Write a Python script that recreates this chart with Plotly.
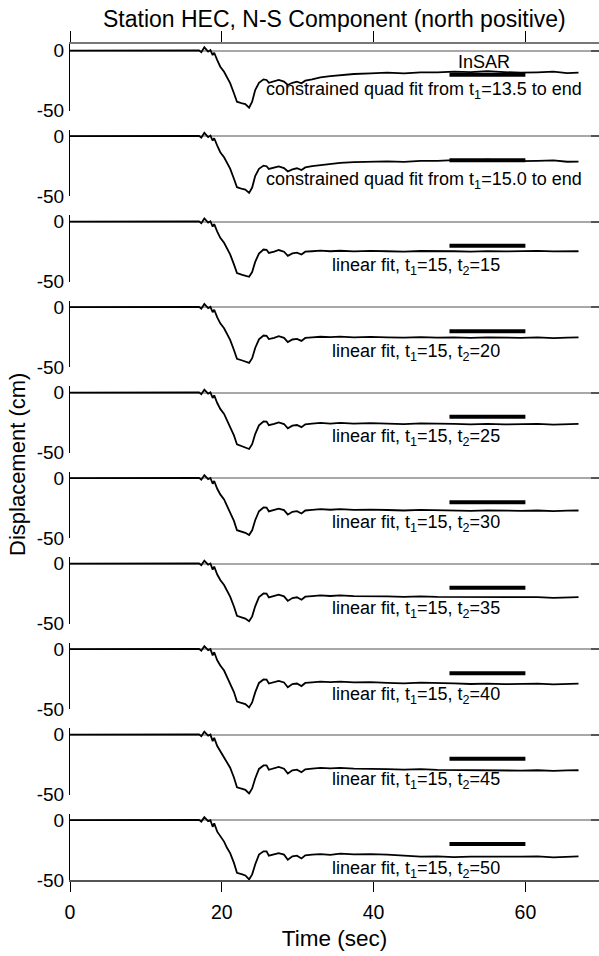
import plotly.graph_objects as go

# ---------------- data ----------------
time_s = [0, 14.5, 16.3, 17.0, 17.3, 17.7, 18.2, 18.5, 18.8, 19.0,
          19.4, 19.8, 20.3, 20.7, 21.1, 21.6, 22.0, 22.7, 23.1, 23.6,
          24.0, 24.4, 24.9, 25.5, 25.9, 26.2, 26.9, 27.5, 28.2, 28.7,
          29.3, 29.9, 30.5, 31.0, 31.9, 33.0, 34.3, 35.6, 37.4, 39.6,
          41.8, 44.0, 46.2, 48.4, 50.6, 52.8, 55.0, 57.2, 59.4, 61.6,
          63.7, 65.5, 67.0]

quad_t1_13_5 = [0, 0, 0.3, 0.3, -1.2, 2.8, -0.8, 0.5, -3.6, -1.7, -7.8, -13.3, -17.5, -23.0, -27.0, -35.5, -42.5, -44.0, -44.5,
                -47.5, -42.5, -32.8, -26.7, -23.9, -24.4, -26.7, -25.8, -24.4, -25.8, -28.6, -26.7, -25.8, -27.2, -25.0, -23.9,
                -22.2, -21.1, -20.3, -19.4, -18.9, -18.3, -18.9, -18.0, -18.0, -17.5, -17.8, -17.0, -17.8, -18.3, -18.0, -17.5, -18.6, -18.3]
quad_t1_15_0 = [0, 0, 0.3, 0.3, -1.2, 2.8, -0.8, 0.5, -3.6, -1.7, -7.8, -13.3, -17.5, -23.0, -27.0, -35.5, -42.5, -44.0, -44.5,
                -47.3, -42.8, -33.2, -27.2, -24.5, -25.0, -27.3, -26.5, -25.2, -26.6, -29.4, -27.6, -26.7, -28.2, -26.0, -25.0,
                -24.0, -23.0, -22.2, -21.6, -21.3, -21.0, -21.4, -20.6, -20.5, -20.0, -20.3, -19.6, -20.3, -20.8, -20.6, -20.2, -21.3, -21.2]
lin_t2_15 = [0, 0, 0.3, 0.3, -1.2, 2.7, -0.8, 0.4, -4.0, -2.0, -8.2, -13.4, -17.6, -23.1, -27.2, -35.6, -42.8, -44.3, -44.9,
             -45.9, -42.0, -33.5, -26.5, -23.2, -23.4, -26.0, -25.0, -23.6, -25.0, -28.4, -26.4, -25.8, -27.4, -25.0, -24.6,
             -24.1, -24.6, -24.2, -24.7, -24.3, -24.6, -24.9, -24.4, -24.8, -24.6, -24.9, -24.5, -24.8, -24.6, -24.3, -24.8, -24.4, -24.6]
lin_t2_20 = [0, 0, 0.3, 0.3, -1.2, 2.7, -0.8, 0.3, -4.2, -2.1, -8.4, -13.4, -17.6, -23.1, -27.2, -35.6, -43.0, -44.4, -45.1,
             -46.4, -42.5, -34.0, -26.8, -23.6, -23.8, -26.5, -25.5, -24.2, -25.5, -29.1, -26.9, -26.4, -28.1, -25.6, -25.2,
             -24.6, -25.0, -24.5, -25.1, -24.7, -25.1, -25.4, -24.9, -25.4, -25.2, -25.6, -25.1, -25.6, -25.5, -25.2, -25.8, -25.3, -25.2]
lin_t2_25 = [0, 0, 0.3, 0.3, -1.2, 2.6, -0.8, 0.3, -4.4, -2.2, -8.6, -13.5, -17.7, -23.2, -27.3, -35.6, -43.1, -44.6, -45.3,
             -46.9, -42.9, -34.5, -27.2, -24.0, -24.1, -27.1, -25.9, -24.7, -26.1, -29.7, -27.5, -26.9, -28.7, -26.3, -25.8,
             -25.2, -25.7, -25.1, -25.7, -25.4, -25.8, -26.1, -25.6, -26.1, -26.0, -26.4, -25.9, -26.4, -26.3, -26.0, -26.6, -26.1, -26.0]
lin_t2_30 = [0, 0, 0.3, 0.3, -1.2, 2.6, -0.8, 0.2, -4.6, -2.3, -8.8, -13.5, -17.7, -23.2, -27.3, -35.6, -43.3, -44.7, -45.5,
             -47.4, -43.4, -35.0, -27.5, -24.4, -24.5, -27.6, -26.4, -25.3, -26.6, -30.4, -28.0, -27.5, -29.4, -26.9, -26.4,
             -25.8, -26.3, -25.8, -26.4, -26.1, -26.5, -26.9, -26.4, -26.9, -26.8, -27.3, -26.8, -27.3, -27.2, -26.9, -27.5, -27.0, -26.9]
lin_t2_35 = [0, 0, 0.3, 0.3, -1.2, 2.6, -0.8, 0.2, -4.9, -2.4, -9.0, -13.6, -17.8, -23.2, -27.4, -35.7, -43.5, -44.9, -45.7,
             -48.0, -43.9, -35.5, -27.8, -24.8, -24.9, -28.1, -26.9, -25.8, -27.2, -31.0, -28.6, -28.0, -30.0, -27.5, -27.0,
             -26.4, -26.9, -26.4, -27.0, -26.8, -27.2, -27.6, -27.2, -27.7, -27.7, -28.1, -27.7, -28.2, -28.1, -27.8, -28.4, -27.9, -27.8]
lin_t2_40 = [0, 0, 0.3, 0.3, -1.2, 2.5, -0.8, 0.1, -5.1, -2.5, -9.2, -13.6, -17.8, -23.3, -27.4, -35.7, -43.6, -45.0, -45.8,
             -48.5, -44.4, -36.0, -28.1, -25.2, -25.3, -28.6, -27.4, -26.4, -27.7, -31.7, -29.1, -28.6, -30.7, -28.1, -27.6,
             -27.0, -27.5, -27.0, -27.7, -27.5, -28.0, -28.4, -27.9, -28.5, -28.5, -29.0, -28.6, -29.1, -29.0, -28.7, -29.3, -28.8, -28.7]
lin_t2_45 = [0, 0, 0.3, 0.3, -1.2, 2.5, -0.8, 0.1, -5.3, -2.6, -9.4, -13.7, -17.9, -23.3, -27.5, -35.7, -43.8, -45.2, -46.0,
             -49.0, -44.8, -36.5, -28.5, -25.6, -25.6, -29.2, -27.8, -26.9, -28.3, -32.3, -29.7, -29.1, -31.3, -28.8, -28.2,
             -27.6, -28.1, -27.7, -28.3, -28.2, -28.7, -29.1, -28.7, -29.3, -29.4, -29.9, -29.5, -30.0, -29.9, -29.6, -30.2, -29.7, -29.6]
lin_t2_50 = [0, 0, 0.3, 0.3, -1.2, 2.5, -0.8, 0.0, -5.5, -2.7, -9.6, -13.7, -17.9, -23.3, -27.5, -35.7, -44.0, -45.3, -46.2,
             -49.5, -45.3, -37.0, -28.8, -26.0, -26.0, -29.7, -28.3, -27.5, -28.8, -33.0, -30.2, -29.7, -32.0, -29.4, -28.8,
             -28.3, -29.0, -28.0, -28.6, -28.3, -28.8, -29.7, -30.5, -30.2, -30.8, -30.5, -30.8, -30.5, -30.5, -30.2, -31.0, -30.5, -30.2]

panel_series = [quad_t1_13_5, quad_t1_15_0, lin_t2_15, lin_t2_20, lin_t2_25,
                lin_t2_30, lin_t2_35, lin_t2_40, lin_t2_45, lin_t2_50]

panel_labels = ["constrained quad fit from t<sub>1</sub>=13.5 to end",
                "constrained quad fit from t<sub>1</sub>=15.0 to end",
                "linear fit, t<sub>1</sub>=15, t<sub>2</sub>=15",
                "linear fit, t<sub>1</sub>=15, t<sub>2</sub>=20",
                "linear fit, t<sub>1</sub>=15, t<sub>2</sub>=25",
                "linear fit, t<sub>1</sub>=15, t<sub>2</sub>=30",
                "linear fit, t<sub>1</sub>=15, t<sub>2</sub>=35",
                "linear fit, t<sub>1</sub>=15, t<sub>2</sub>=40",
                "linear fit, t<sub>1</sub>=15, t<sub>2</sub>=45",
                "linear fit, t<sub>1</sub>=15, t<sub>2</sub>=50"]

insar_time = [50, 60]
insar_disp = [-20, -20]

x_ticks = [0, 20, 40, 60]
y_ticks = [0, -50]
y_tick_text = ["0", "-50"]

# ---------------- layout helpers ----------------
label_pos = [(46.6, -33.5), (46.6, -37), (45.6, -37), (45.6, -38), (45.6, -37.5),
             (45.6, -37.5), (45.6, -38), (45.6, -39), (45.6, -38), (45.6, -41.5)]

W, H = 599, 956
M_T, M_B, M_L, M_R = 44, 76, 70, 0
PH = H - M_T - M_B
PANEL_STEP = 85.5
PANEL_H = 66.7
Y_RANGE = [-50, 5.6]
X_RANGE = [0, 69.7]
FONT = "Liberation Sans, Arial, Helvetica, sans-serif"

fig = go.Figure()
layout = {}
annotations = []

for k in range(10):
    yname = "y" if k == 0 else f"y{k+1}"
    ykey = "yaxis" if k == 0 else f"yaxis{k+1}"
    rname = f"y{k+11}"
    rkey = f"yaxis{k+11}"
    top_px = M_T + PANEL_STEP * k
    bot_px = top_px + PANEL_H
    d0 = max(0.0, (H - M_B - bot_px) / PH)
    d1 = min(1.0, (H - M_B - top_px) / PH)

    fig.add_trace(go.Scatter(x=time_s, y=panel_series[k], mode="lines",
                             line=dict(color="black", width=1.8),
                             xaxis="x", yaxis=yname, showlegend=False,
                             hoverinfo="skip"))
    # InSAR bar drawn on the (identical-range) right-side axis so that axis renders
    fig.add_trace(go.Scatter(x=insar_time, y=insar_disp, mode="lines",
                             line=dict(color="black", width=4),
                             xaxis="x2" if k == 0 else "x", yaxis=rname,
                             showlegend=False, hoverinfo="skip"))

    layout[ykey] = dict(domain=[d0, d1], range=Y_RANGE, anchor="x",
                        tickvals=y_ticks, ticktext=y_tick_text,
                        ticks="inside", ticklen=10, tickwidth=1, tickcolor="black",
                        showline=True, linecolor="black", linewidth=1,
                        zeroline=True, zerolinecolor="#a8a8a8", zerolinewidth=1.5,
                        showgrid=False, ticklabelstandoff=1,
                        tickfont=dict(size=19, family=FONT, color="black"))
    layout[rkey] = dict(domain=[d0, d1], range=Y_RANGE, anchor="x",
                        overlaying=yname, side="right",
                        tickvals=y_ticks, ticks="inside", ticklen=8,
                        tickcolor="#555555", tickwidth=1.5,
                        showticklabels=False, showline=False,
                        zeroline=False, showgrid=False)

    lx, ly = label_pos[k]
    annotations.append(dict(x=lx, y=ly, xref="x", yref=yname, text=panel_labels[k],
                            showarrow=False, xanchor="center", yanchor="middle",
                            font=dict(size=18, family=FONT, color="black")))

annotations.append(dict(x=54.5, y=-9, xref="x", yref="y", text="InSAR",
                        showarrow=False, xanchor="center", yanchor="middle",
                        font=dict(size=18, family=FONT, color="black")))
annotations.append(dict(x=0.5, y=1 + (M_T - 19) / PH, xref="paper", yref="paper",
                        text="Station HEC, N-S Component (north positive)",
                        showarrow=False, xanchor="center", yanchor="middle",
                        font=dict(size=23, family=FONT, color="black")))
annotations.append(dict(x=(17 - M_L) / (W - M_L - M_R), y=(H - M_B - 465) / PH,
                        xref="paper", yref="paper", text="Displacement (cm)",
                        textangle=-90, showarrow=False, xanchor="center", yanchor="middle",
                        font=dict(size=22, family=FONT, color="black")))

layout["xaxis"] = dict(range=X_RANGE, anchor="y10", tickvals=x_ticks,
                       ticks="outside", ticklen=10, tickcolor="black", tickwidth=1,
                       showline=True, linecolor="#555555", linewidth=1.5,
                       showgrid=False, zeroline=False, ticklabelstandoff=4,
                       tickfont=dict(size=19.5, family=FONT, color="black"),
                       title=dict(text="Time (sec)", standoff=8,
                                  font=dict(size=22.5, family=FONT, color="black")))
layout["xaxis2"] = dict(range=X_RANGE, anchor="y", overlaying="x", side="top",
                        tickvals=x_ticks, ticks="outside", ticklen=11,
                        tickcolor="black", tickwidth=1,
                        showticklabels=False, showline=True,
                        linecolor="#777777", linewidth=1.5,
                        showgrid=False, zeroline=False)

fig.update_layout(width=W, height=H,
                  margin=dict(l=M_L, r=M_R, t=M_T, b=M_B),
                  paper_bgcolor="white", plot_bgcolor="white",
                  showlegend=False, annotations=annotations,
                  font=dict(family=FONT, color="black"),
                  **layout)

fig.write_html("out.html")
